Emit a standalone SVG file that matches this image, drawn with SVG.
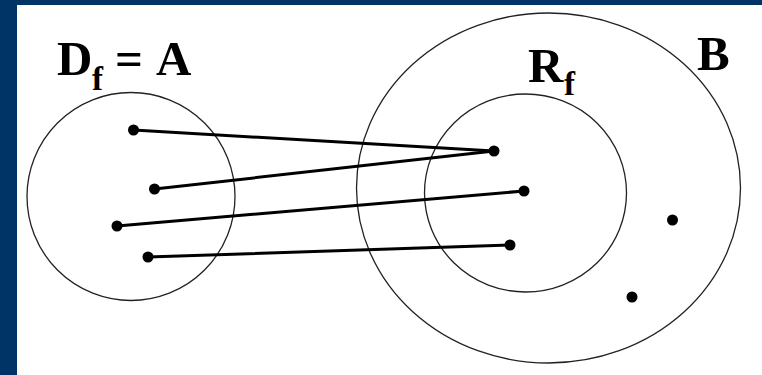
<svg xmlns="http://www.w3.org/2000/svg" width="762" height="375" viewBox="0 0 762 375">
<style>
.set{fill:none;stroke:#222;stroke-width:1.3}
.dot{fill:#000}
.conn{stroke:#000;stroke-width:3;stroke-linecap:round}
.lbl{font-family:"Liberation Serif","Times New Roman",serif;font-weight:bold;fill:#000}
</style>
<rect x="0" y="0" width="762" height="375" fill="#003366"/>
<rect x="17" y="5" width="745" height="370" fill="#ffffff"/>
<g id="set-A">
<circle class="set" cx="131" cy="196.5" r="104"/>
<text class="lbl" font-size="49"><tspan x="57" y="75">D</tspan><tspan x="92" y="90" font-size="33">f</tspan><tspan x="115" y="75">=</tspan><tspan x="156" y="75">A</tspan></text>
</g>
<g id="set-B">
<ellipse class="set" cx="548.5" cy="188" rx="192" ry="175"/>
<text class="lbl" font-size="49" x="697" y="70">B</text>
</g>
<g id="set-Rf">
<ellipse class="set" cx="525.5" cy="193" rx="101" ry="99"/>
<text class="lbl" font-size="49"><tspan x="528" y="82">R</tspan><tspan x="564" y="95" font-size="33">f</tspan></text>
</g>
<g id="connectors">
<line class="conn" x1="133.5" y1="130" x2="494" y2="151"/>
<line class="conn" x1="154.5" y1="189" x2="494" y2="151"/>
<line class="conn" x1="117" y1="226" x2="524" y2="191"/>
<line class="conn" x1="148" y1="257" x2="510" y2="245"/>
</g>
<g id="points">
<circle class="dot" cx="133.5" cy="130" r="5.5"/>
<circle class="dot" cx="154.5" cy="189" r="5.5"/>
<circle class="dot" cx="117" cy="226" r="5.5"/>
<circle class="dot" cx="148" cy="257" r="5.5"/>
<circle class="dot" cx="494" cy="151" r="5.5"/>
<circle class="dot" cx="524" cy="191" r="5.5"/>
<circle class="dot" cx="510" cy="245" r="5.5"/>
<circle class="dot" cx="672.5" cy="220" r="5.5"/>
<circle class="dot" cx="632" cy="297" r="5.5"/>
</g>
</svg>
